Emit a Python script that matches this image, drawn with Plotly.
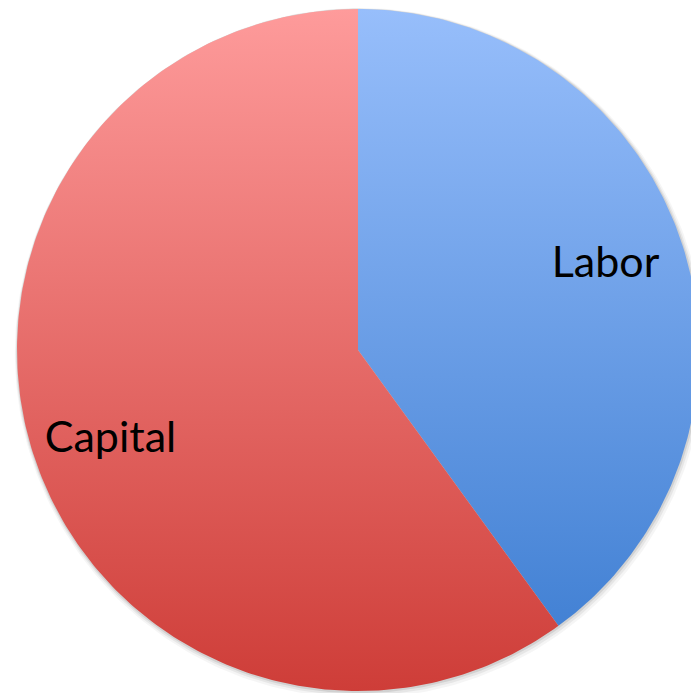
import numpy as np
import plotly.graph_objects as go

# Share of income by factor
labels = ["Labor", "Capital"]
values = [40, 60]
top_colors = ["#97BEFB", "#FE9B9B"]
bottom_colors = ["#3A7BD0", "#CE3D38"]

W, H = 691, 693
R_PX = 341.0
CX_PX, CY_PX = 358.0, 350.0

# axis ranges chosen so the unit circle sits at the pie centre
x_range = [-CX_PX / R_PX, (W - CX_PX) / R_PX]
y_range = [(CY_PX - H) / R_PX, CY_PX / R_PX]

fig = go.Figure()

# soft drop shadow under the disc
t = np.linspace(0, 2 * np.pi, 361)
for grow, off, alpha in [(4, 3, 0.04), (2.5, 2, 0.06), (1.2, 1, 0.09)]:
    r = 1 + grow / R_PX
    fig.add_trace(go.Scatter(
        x=r * np.sin(t) + off / R_PX * 0.6, y=r * np.cos(t) - off / R_PX,
        mode="lines", fill="toself", line=dict(width=0),
        fillcolor=f"rgba(0,0,0,{alpha})", hoverinfo="skip", showlegend=False))

total = float(sum(values))
start = 0.0
label_x, label_y = [], []
for lab, v, ctop, cbot in zip(labels, values, top_colors, bottom_colors):
    a0 = start / total * 2 * np.pi
    a1 = (start + v) / total * 2 * np.pi
    th = np.linspace(a0, a1, max(int(v * 4), 20))
    xs = np.concatenate([[0], np.sin(th), [0]])
    ys = np.concatenate([[0], np.cos(th), [0]])
    fig.add_trace(go.Scatter(
        x=xs, y=ys, mode="lines", fill="toself", line=dict(width=0),
        fillgradient=dict(type="vertical", start=-1, stop=1,
                          colorscale=[[0, cbot], [1, ctop]]),
        name=lab, hoverinfo="name", showlegend=False))
    mid = (a0 + a1) / 2 - np.deg2rad(1.5)
    label_x.append(0.77 * np.sin(mid))
    label_y.append(0.77 * np.cos(mid) - 4 / R_PX)
    start += v

fig.add_trace(go.Scatter(
    x=label_x, y=label_y, mode="text", text=labels,
    textfont=dict(family="Lato, 'Open Sans', sans-serif", size=43, color="#000000"),
    textposition="middle center", hoverinfo="skip", showlegend=False))

fig.update_layout(
    width=W, height=H,
    margin=dict(l=0, r=0, t=0, b=0),
    paper_bgcolor="white", plot_bgcolor="white",
    xaxis=dict(range=x_range, visible=False, fixedrange=True),
    yaxis=dict(range=y_range, visible=False, fixedrange=True),
)

fig.write_html("out.html")
